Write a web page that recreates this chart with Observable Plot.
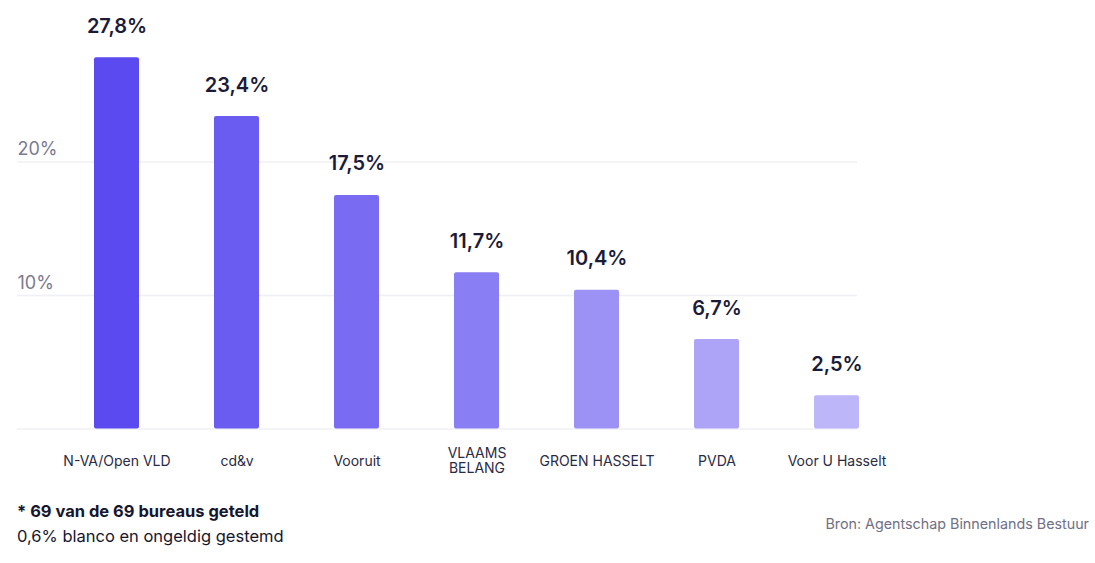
<!DOCTYPE html>
<html>
<head>
<meta charset="utf-8">
<script src="https://cdn.jsdelivr.net/npm/d3@7"></script>
<script src="https://cdn.jsdelivr.net/npm/@observablehq/plot@0.6"></script>
<style>
  body { margin: 0; background: #fff; font-family: Inter, "Noto Sans", sans-serif; }
  #chart svg { display: block; }
  .footer { position: relative; height: 70px; }
  .note1 { position: absolute; left: 17px; top: 9px; font-size: 16.5px; font-weight: 700; color: #16162e; }
  .note2 { position: absolute; left: 17px; top: 34px; font-size: 16.5px; color: #16162e; }
  .source { position: absolute; right: 6px; top: 23px; font-size: 14.3px; color: #6f6f85; }
</style>
</head>
<body>
<div id="chart"></div>
<div class="footer">
  <div class="note1">* 69 van de 69 bureaus geteld</div>
  <div class="note2">0,6% blanco en ongeldig gestemd</div>
  <div class="source">Bron: Agentschap Binnenlands Bestuur</div>
</div>
<script>
const parties = ["N-VA/Open VLD", "cd&v", "Vooruit", "VLAAMS\nBELANG", "GROEN HASSELT", "PVDA", "Voor U Hasselt"];
const shares = [27.8, 23.4, 17.5, 11.7, 10.4, 6.7, 2.5];
const barColors = ["#5b4aef", "#6a5cf0", "#7a6cf2", "#8a7ef4", "#9c92f6", "#ada4f7", "#bdb6f9"];
const yTicks = [0, 10, 20];
const yTickLabels = ["", "10%", "20%"];

const data = parties.map((p, i) => ({party: p, share: shares[i], color: barColors[i], label: shares[i].toFixed(1).replace(".", ",") + "%"}));
const ticks = yTicks.map((t, i) => ({t, label: yTickLabels[i]}));

const chart = Plot.plot({
  width: 1095,
  height: 492,
  marginLeft: 17,
  marginRight: 238,
  marginTop: 0,
  marginBottom: 0,
  x: {domain: parties, range: [56.5, 896.5], paddingInner: 0.625, paddingOuter: 0.3125, axis: null},
  y: {domain: [0, 30], range: [428.5, 28], axis: null},
  style: {fontFamily: "Inter, 'Noto Sans', sans-serif"},
  marks: [
    Plot.ruleY(ticks, {y: "t", stroke: "#efeff6", strokeWidth: 1.5}),
    Plot.text(ticks, {y: "t", text: "label", frameAnchor: "left", textAnchor: "start", lineAnchor: "bottom", dy: -7, fontSize: 18, fill: "#7a7a90"}),
    Plot.barY(data, {x: "party", y: "share", fill: "color", rx: 2}),
    Plot.text(data, {x: "party", y: "share", text: "label", lineAnchor: "bottom", dy: -25, fontSize: 20, fontWeight: 600, fill: "#1b1b38"}),
    Plot.text(data, {x: "party", y: 0, text: "party", lineAnchor: "middle", dy: 32, fontSize: 14, lineHeight: 1.08, fill: "#2a2a45"})
  ]
});
document.getElementById("chart").append(chart);
</script>
</body>
</html>
